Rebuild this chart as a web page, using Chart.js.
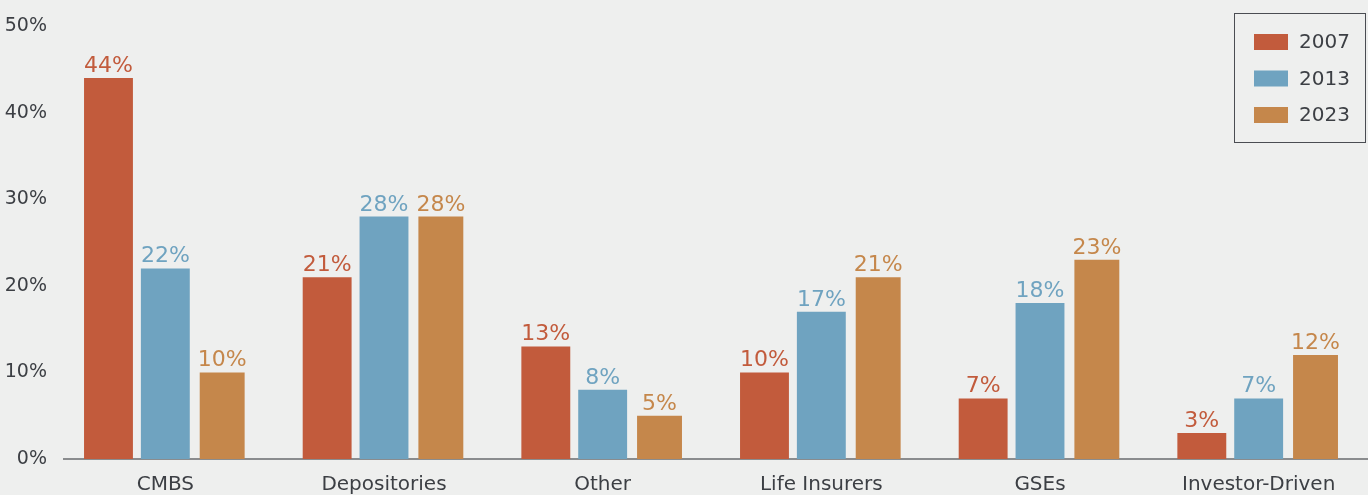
<!DOCTYPE html>
<html>
<head>
<meta charset="utf-8">
<script src="https://cdn.jsdelivr.net/npm/chart.js@4/dist/chart.umd.min.js"></script>
<style>
  html, body { margin: 0; padding: 0; background: #eeefee; }
  #wrap { width: 1368px; height: 495px; }
</style>
</head>
<body>
<div id="wrap"><canvas id="myChart"></canvas></div>
<script>
const labels = ['CMBS', 'Depositories', 'Other', 'Life Insurers', 'GSEs', 'Investor-Driven'];
const years = ['2007', '2013', '2023'];
const share2007 = [44, 21, 13, 10, 7, 3];
const share2013 = [22, 28, 8, 17, 18, 7];
const share2023 = [10, 28, 5, 21, 23, 12];
const colors = ['#c25b3c', '#6fa3c0', '#c5874b'];

const fontFamily = '"DejaVu Sans", sans-serif';
const textColor = '#3c3f44';

// value labels above each bar, in the bar's colour
const barLabels = {
  id: 'barLabels',
  afterDatasetsDraw(chart) {
    const ctx = chart.ctx;
    ctx.save();
    ctx.font = '22px ' + fontFamily;
    ctx.textAlign = 'center';
    ctx.textBaseline = 'alphabetic';
    chart.data.datasets.forEach((ds, i) => {
      const meta = chart.getDatasetMeta(i);
      ctx.fillStyle = ds.backgroundColor;
      meta.data.forEach((bar, j) => {
        ctx.fillText(ds.data[j] + '%', bar.x, bar.y - 6);
      });
    });
    ctx.restore();
  }
};

// baseline at 0% and the boxed legend in the top right corner
const extras = {
  id: 'extras',
  beforeDatasetsDraw(chart) {
    const ctx = chart.ctx;
    const y = chart.scales.y.getPixelForValue(0);
    ctx.save();
    ctx.strokeStyle = '#8a8c8e';
    ctx.lineWidth = 2;
    ctx.beginPath();
    ctx.moveTo(63, y);
    ctx.lineTo(chart.width, y);
    ctx.stroke();
    ctx.restore();
  },
  afterDraw(chart) {
    const ctx = chart.ctx;
    ctx.save();
    ctx.strokeStyle = '#4a4d52';
    ctx.lineWidth = 1;
    ctx.strokeRect(1234.5, 13.5, 131, 129);
    ctx.font = '20px ' + fontFamily;
    ctx.textBaseline = 'middle';
    ctx.textAlign = 'left';
    chart.data.datasets.forEach((ds, i) => {
      const y = 42 + i * 36.5;
      ctx.fillStyle = ds.backgroundColor;
      ctx.fillRect(1254, y - 8, 34, 16);
      ctx.fillStyle = textColor;
      ctx.fillText(ds.label, 1299, y + 1);
    });
    ctx.restore();
  }
};

const data = {
  labels: labels,
  datasets: [
    { label: years[0], data: share2007, backgroundColor: colors[0], barPercentage: 0.86 },
    { label: years[1], data: share2013, backgroundColor: colors[1], barPercentage: 0.86 },
    { label: years[2], data: share2023, backgroundColor: colors[2], barPercentage: 0.79 }
  ]
};

const config = {
  type: 'bar',
  data: data,
  options: {
    responsive: true,
    maintainAspectRatio: false,
    animation: false,
    categoryPercentage: 0.78,
    layout: { padding: { top: 26, right: 0, bottom: 0, left: 0 } },
    plugins: {
      legend: { display: false },
      tooltip: { enabled: false }
    },
    scales: {
      x: {
        grid: { display: false },
        border: { display: false },
        afterFit(scale) { scale.height = 36; },
        ticks: {
          color: textColor,
          font: { family: fontFamily, size: 20 },
          padding: 6,
          maxRotation: 0
        }
      },
      y: {
        min: 0,
        max: 50,
        grid: { display: false },
        border: { display: false },
        afterFit(scale) { scale.width = 56; },
        ticks: {
          stepSize: 10,
          color: textColor,
          font: { family: fontFamily, size: 19 },
          padding: 1,
          callback: v => v + '%'
        }
      }
    }
  },
  plugins: [barLabels, extras]
};

const myChart = new Chart(document.getElementById('myChart'), config);
</script>
</body>
</html>
